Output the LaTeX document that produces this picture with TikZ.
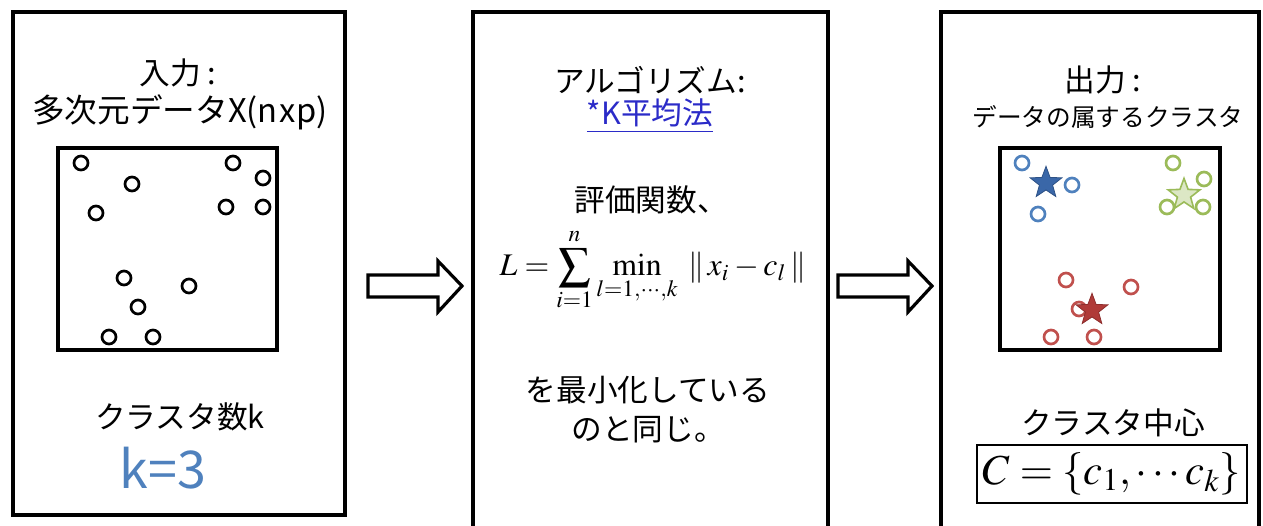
\documentclass[tikz,border=0pt]{standalone}
\usepackage{graphicx}
\usepackage{mathptmx}
\usepackage{fontspec}
\setmainfont{Noto Sans CJK JP}
\usetikzlibrary{shapes.geometric}
\definecolor{kblue}{HTML}{4F81BD}
\definecolor{kbluedk}{HTML}{3A67A8}
\definecolor{kgreen}{HTML}{9BBB59}
\definecolor{kred}{HTML}{C0504D}
\definecolor{kredk}{HTML}{B03A38}
\definecolor{linkblue}{HTML}{2B2BC8}
\begin{document}
\begin{tikzpicture}[x=0.75pt,y=-0.75pt,
  panel/.style={draw=black,line width=2.6pt},
  plot/.style={draw=black,line width=2.6pt},
  pt/.style={circle,draw=#1,line width=2pt,minimum size=10.5pt,inner sep=0pt},
  pt/.default=black,
  starmark/.style={star,star points=5,star point ratio=2.4,minimum size=25pt,inner sep=0pt,draw=#1!80!black,fill=#1,line width=0.6pt},
  blockarrow/.style={draw=black,line width=2.4pt,fill=white,line join=miter},
  jp/.style={font=\fontsize{23}{26}\selectfont,inner sep=0pt,anchor=center},
]
\useasboundingbox (0,0) rectangle (1263,525);
\clip (0,0) rectangle (1263,525);
% panels
\draw[panel] (13,12) rectangle (345,515);
\draw[panel] (473,12) rectangle (828,540);
\draw[panel] (941,12) rectangle (1259,540);
% arrows
\draw[blockarrow] (368,275) -- (438,275) -- (438,261) -- (462,286) -- (438,312) -- (438,297) -- (368,297) -- cycle;
\draw[blockarrow] (838,275) -- (908,275) -- (908,261) -- (932,286) -- (908,312) -- (908,297) -- (838,297) -- cycle;
% left panel
\node[jp] (in1) at (178,73) {入力 :};
\node[font=\fontsize{24.5}{27}\selectfont,inner sep=0pt] (in2) at (180,112) {多次元データX(n{\kern1pt}x{\kern1pt}p)};
\draw[plot] (58,148) rectangle (277,350);
\foreach \x/\y [count=\i] in {81/163,132/184,96/213,233/163,263/178,226/207,263/207,124/278,189/286,138/307,109/337,153/337}
  \node[pt] (p\i) at (\x,\y) {};
\node[jp] (kn) at (180,417) {クラスタ数k};
\node[font=\fontsize{39}{42}\selectfont,text=kblue,inner sep=0pt] (k3) at (163,468) {k=3};
% middle panel
\node[jp] (algo) at (650,80) {アルゴリズム:};
\node[font=\fontsize{23}{26}\selectfont,text=linkblue,inner sep=0pt] (km) at (650,116) {\underline{*K平均法}};
\node[jp] (eval) at (651,200) {評価関数、};
\node[inner sep=0pt] (form) at (653,270)
  {\resizebox*{230pt}{62pt}{$\displaystyle L=\sum_{i=1}^{n}\min_{l=1,\cdots,k}\;\|\,x_i-c_l\,\|$}};
\node[jp] (min1) at (648,390) {を最小化している};
\node[jp] (min2) at (648,430) {のと同じ。};
% right panel
\node[jp] (out1) at (1103,80) {出力 :};
\node[font=\fontsize{18.5}{21}\selectfont,inner sep=0pt] (out2) at (1108,117) {データの属するクラスタ};
\draw[plot] (1000,148) rectangle (1220,350);
\foreach \x/\y [count=\i] in {1022/163,1072/185,1038/214}
  \node[pt=kblue] (b\i) at (\x,\y) {};
\foreach \x/\y [count=\i] in {1173/163,1204/179,1167/207,1203/207}
  \node[pt=kgreen] (g\i) at (\x,\y) {};
\foreach \x/\y [count=\i] in {1066/280,1131/287,1079/309,1051/337,1094/337}
  \node[pt=kred] (r\i) at (\x,\y) {};
\node[starmark=kbluedk] (sb) at (1046,183) {};
\node[star,star points=5,star point ratio=2.4,minimum size=25pt,inner sep=0pt,draw=kgreen,fill=kgreen!35,line width=1.2pt] (sg) at (1184,195) {};
\node[starmark=kredk] (sr) at (1092,310) {};
\node[jp] (cc) at (1113,423) {クラスタ中心};
\node[draw=black,line width=1.5pt,minimum width=202.5pt,minimum height=43.5pt,inner sep=0pt,font=\fontsize{32}{34}\selectfont] (cset) at (1112,474)
  {$C=\{c_1,\cdots c_k\}$};
\end{tikzpicture}
\end{document}
